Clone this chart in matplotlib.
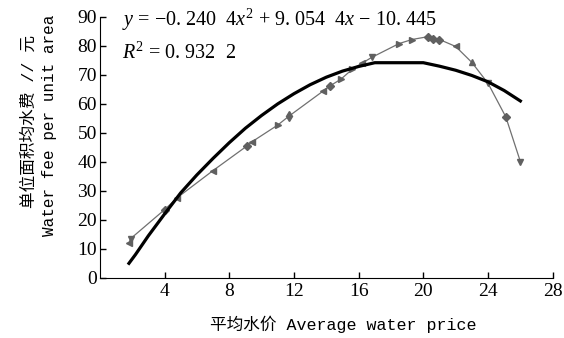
import matplotlib.pyplot as plt

plt.rcParams['mathtext.fontset'] = 'custom'
plt.rcParams['mathtext.rm'] = 'Liberation Serif'
plt.rcParams['mathtext.it'] = 'Liberation Serif:italic'

# fitted curve (thick line)
fit_x = [1.8, 2.2, 3, 4, 5, 6, 7, 8, 9, 10, 11, 12, 13, 14, 15, 16, 17, 18, 19, 20, 21, 22, 23, 24, 25, 26]
fit_y = [5.0, 8.0, 14.5, 22.0, 29.3, 35.5, 41.2, 46.6, 51.6, 56.0, 60.0, 63.5, 66.6, 69.2, 71.3, 72.9, 74.2, 74.2, 74.2, 74.2, 73.0, 71.6, 69.8, 67.6, 64.6, 61.0]

# observed points (thin line with markers)
obs_x = [1.8, 1.9, 4.0, 4.8, 7.0, 9.1, 9.4, 11.0, 11.7, 13.8, 14.2, 14.9, 15.6, 16.2, 16.8,
         18.5, 19.3, 20.3, 20.6, 21.0, 22.0, 23.0, 24.0, 25.1, 26.0]
obs_y = [12.0, 13.5, 23.5, 27.7, 37.0, 45.5, 46.9, 52.7, 55.8, 64.4, 66.1, 68.5, 71.9, 74.0, 76.0,
         80.8, 82.2, 83.2, 82.5, 82.2, 79.8, 74.3, 67.1, 55.5, 40.1]
obs_m = ['<', 'v', 'D', '<', '<', 'D', '<', '>', 'd', '<', 'D', '>', '>', '<', 'v',
         '>', '>', 'D', 'D', 'D', '<', '^', 'v', 'D', 'v']

xticks = [4, 8, 12, 16, 20, 24, 28]
yticks = [0, 10, 20, 30, 40, 50, 60, 70, 80, 90]

fig = plt.figure(figsize=(5.64, 3.38), dpi=100)
ax = fig.add_axes([0.177, 0.178, 0.803, 0.772])

ax.plot(obs_x, obs_y, color='#707070', lw=0.9, zorder=2)
for x, y, m in zip(obs_x, obs_y, obs_m):
    ax.plot(x, y, marker=m, color='#606060', ms=5 if m != 'D' else 4, ls='none', zorder=3)
ax.plot(fit_x, fit_y, color='black', lw=2.3, zorder=4)

ax.set_xlim(0, 28)
ax.set_ylim(0, 90)
ax.set_xticks(xticks)
ax.set_yticks(yticks)
ax.spines['top'].set_visible(False)
ax.spines['right'].set_visible(False)
ax.tick_params(direction='in', length=4, width=1, labelsize=14)
for lab in ax.get_xticklabels() + ax.get_yticklabels():
    lab.set_fontfamily('Liberation Serif')
ax.tick_params(axis='x', pad=4)
ax.tick_params(axis='y', pad=2)

ax.text(0.048, 0.99, r'$y$ = −0. 240  4$x^2$ + 9. 054  4$x$ − 10. 445', transform=ax.transAxes,
        fontsize=14.5, family='Liberation Serif', va='center')
ax.text(0.048, 0.862, r'$R^2$ = 0. 932  2', transform=ax.transAxes,
        fontsize=14.5, family='Liberation Serif', va='center')

lab_font = ['Liberation Mono', 'Noto Sans CJK SC']
fig.text(0.051, 0.64, '单位面积均水费 // 元', rotation=90, ha='center', va='center',
         fontsize=12, family=lab_font)
fig.text(0.087, 0.63, 'Water fee per unit area', rotation=90, ha='center', va='center',
         fontsize=11.5, family=lab_font)
fig.text(0.608, 0.041, '平均水价 Average water price', ha='center', va='center',
         fontsize=12, family=lab_font)

fig.savefig('out.png', dpi=100)
